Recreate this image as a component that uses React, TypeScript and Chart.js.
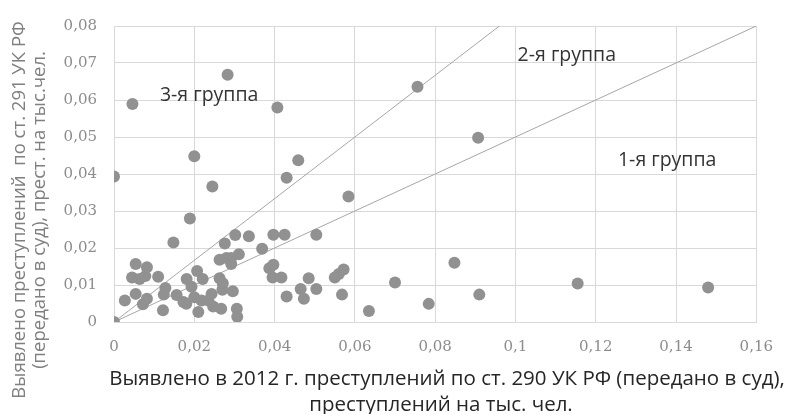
import React, { useEffect, useRef } from 'react';
import { Chart, registerables } from 'chart.js';

Chart.register(...registerables);

// Regions: x = crimes under art. 290, y = crimes under art. 291 (per 1000 people)
const REGION_X = [
  0, 0.0046, 0.0283, 0.0407, 0.02, 0.0245, 0.043, 0.0459, 0.0584, 0.0189,
  0.0756, 0.0907, 0.07, 0.0784, 0.0848, 0.091, 0.1155, 0.148, 0.0635,
  0, 0.0027, 0.0054, 0.0054, 0.0045, 0.0064, 0.0078, 0.0082, 0.011, 0.0082,
  0.0072, 0.0122, 0.0128, 0.0124, 0.0148, 0.0156, 0.0173, 0.018, 0.0181, 0.0193,
  0.02, 0.0207, 0.0221, 0.021, 0.0218, 0.0235, 0.0243, 0.0247, 0.0263, 0.0263,
  0.027, 0.0267, 0.0276, 0.028, 0.0292, 0.0292, 0.0296, 0.0302, 0.0311, 0.0306,
  0.0307, 0.0336, 0.0369, 0.0387, 0.0397, 0.0395, 0.0397, 0.0417, 0.0425, 0.043,
  0.0465, 0.0473, 0.0485, 0.0504, 0.0504, 0.055, 0.056, 0.0572, 0.0568, 0.0271,
];
const REGION_Y = [
  0.0393, 0.0589, 0.0668, 0.058, 0.0448, 0.0366, 0.039, 0.0437, 0.0339, 0.028,
  0.0636, 0.0498, 0.0107, 0.0049, 0.016, 0.0074, 0.0104, 0.0093, 0.003,
  0, 0.0058, 0.0076, 0.0157, 0.012, 0.0116, 0.0124, 0.0148, 0.0122, 0.0063,
  0.0048, 0.0032, 0.0092, 0.0074, 0.0215, 0.0073, 0.0054, 0.0049, 0.0116, 0.0095,
  0.0067, 0.0138, 0.0116, 0.0027, 0.0058, 0.0058, 0.0076, 0.0042, 0.0118, 0.0168,
  0.0087, 0.0036, 0.0212, 0.0173, 0.0157, 0.0173, 0.0083, 0.0235, 0.0183, 0.0036,
  0.0014, 0.0232, 0.0198, 0.0145, 0.0155, 0.012, 0.0236, 0.012, 0.0236, 0.0069,
  0.0089, 0.0063, 0.0118, 0.0089, 0.0236, 0.012, 0.013, 0.0142, 0.0074, 0.0105,
];

// Group boundary lines
const LINE1_X = [0, 0.16];
const LINE1_Y = [0, 0.08];
const LINE2_X = [0, 0.096];
const LINE2_Y = [0, 0.08];

// Group labels (placed in data coordinates)
const GROUP_LABELS = ['1-я группа', '2-я группа', '3-я группа'];
const GROUP_LABEL_X = [0.1378, 0.1128, 0.0237];
const GROUP_LABEL_Y = [0.0436, 0.0721, 0.0612];

// Axis ticks
const X_TICK_VALUES = [0, 0.02, 0.04, 0.06, 0.08, 0.1, 0.12, 0.14, 0.16];
const X_TICK_LABELS = ['0', '0,02', '0,04', '0,06', '0,08', '0,1', '0,12', '0,14', '0,16'];
const Y_TICK_VALUES = [0, 0.01, 0.02, 0.03, 0.04, 0.05, 0.06, 0.07, 0.08];
const Y_TICK_LABELS = ['0', '0,01', '0,02', '0,03', '0,04', '0,05', '0,06', '0,07', '0,08'];

// Axis titles
const X_TITLE = [
  'Выявлено в 2012 г. преступлений по ст. 290 УК РФ (передано в суд),',
  'преступлений на тыс. чел.',
];
const Y_TITLE = [
  'Выявлено преступлений  по ст. 291 УК РФ',
  '(передано в суд), прест. на тыс.чел.',
];

const toPoints = (xs: number[], ys: number[]) => xs.map((x, i) => ({ x, y: ys[i] }));

const textPlugin = {
  id: 'customTexts',
  afterDraw(chart: any) {
    const { ctx } = chart;
    const xs = chart.scales.x;
    const ys = chart.scales.y;
    ctx.save();
    ctx.font = '19.5px "Open Sans"';
    ctx.fillStyle = '#333333';
    ctx.textAlign = 'center';
    ctx.textBaseline = 'middle';
    GROUP_LABELS.forEach((t, i) => {
      ctx.fillText(t, xs.getPixelForValue(GROUP_LABEL_X[i]), ys.getPixelForValue(GROUP_LABEL_Y[i]));
    });

    ctx.textBaseline = 'alphabetic';
    ctx.font = '20.5px "Open Sans"';
    ctx.fillStyle = '#262626';
    ctx.fillText(X_TITLE[0], 447, 385);
    ctx.fillText(X_TITLE[1], 441, 411);

    ctx.font = '18.5px "Open Sans"';
    ctx.fillStyle = '#808080';
    ctx.translate(0, 210);
    ctx.rotate(-Math.PI / 2);
    ctx.fillText(Y_TITLE[0], 0, 25);
    ctx.fillText(Y_TITLE[1], 0, 45);
    ctx.restore();
  },
};

export default function App() {
  const canvasRef = useRef<HTMLCanvasElement | null>(null);

  useEffect(() => {
    document.body.style.margin = '0';
    const canvas = canvasRef.current;
    if (!canvas) return;
    const tickFont = { family: '"DejaVu Serif"', size: 15 };
    const chart = new Chart(canvas, {
      type: 'scatter',
      data: {
        datasets: [
          {
            label: 'Регионы',
            data: toPoints(REGION_X, REGION_Y),
            backgroundColor: '#919191',
            borderWidth: 0,
            pointRadius: 6,
            pointHoverRadius: 6,
          },
          {
            label: 'Граница 1',
            data: toPoints(LINE1_X, LINE1_Y),
            showLine: true,
            borderColor: '#a6a6a6',
            borderWidth: 1,
            pointRadius: 0,
            fill: false,
          },
          {
            label: 'Граница 2',
            data: toPoints(LINE2_X, LINE2_Y),
            showLine: true,
            borderColor: '#a6a6a6',
            borderWidth: 1,
            pointRadius: 0,
            fill: false,
          },
        ],
      },
      options: {
        animation: false,
        responsive: true,
        maintainAspectRatio: false,
        layout: { padding: { left: 0, right: 27, top: 20, bottom: 0 } },
        plugins: {
          legend: { display: false },
          tooltip: { enabled: false },
        },
        scales: {
          x: {
            type: 'linear',
            min: 0,
            max: 0.16,
            afterBuildTicks: (scale: any) => {
              scale.ticks = X_TICK_VALUES.map((v) => ({ value: v }));
            },
            afterFit: (scale: any) => {
              scale.height = 92;
            },
            ticks: {
              autoSkip: false,
              maxRotation: 0,
              padding: 16,
              color: '#8c8c8c',
              font: tickFont,
              callback: (_v: any, i: number) => X_TICK_LABELS[i],
            },
            grid: { color: '#d9d9d9', drawTicks: false },
            border: { color: '#d9d9d9' },
          },
          y: {
            type: 'linear',
            min: 0,
            max: 0.08,
            afterBuildTicks: (scale: any) => {
              scale.ticks = Y_TICK_VALUES.map((v) => ({ value: v }));
            },
            afterFit: (scale: any) => {
              scale.width = 114;
            },
            ticks: {
              autoSkip: false,
              padding: 17,
              color: '#8c8c8c',
              font: tickFont,
              callback: (_v: any, i: number) => Y_TICK_LABELS[i],
            },
            grid: { color: '#d9d9d9', drawTicks: false },
            border: { color: '#d9d9d9' },
          },
        },
      },
      plugins: [textPlugin],
    });
    return () => chart.destroy();
  }, []);

  return (
    <div style={{ position: 'absolute', left: 0, top: 0, width: 789, height: 414 }}>
      <canvas ref={canvasRef} />
    </div>
  );
}
